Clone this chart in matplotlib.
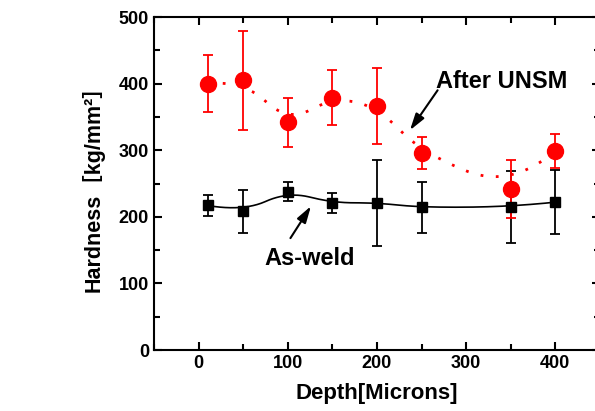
import numpy as np
import matplotlib
matplotlib.use("Agg")
import matplotlib.pyplot as plt
from matplotlib.ticker import MultipleLocator

plt.rcParams['font.family'] = ['Liberation Sans', 'Noto Sans CJK SC', 'DejaVu Sans']
plt.rcParams['font.weight'] = 'bold'

depth = [10, 50, 100, 150, 200, 250, 350, 400]
unsm = [400, 405, 342, 379, 366, 296, 242, 299]
unsm_err = [43, 74, 37, 41, 57, 24, 44, 26]
weld = [217, 208, 238, 221, 221, 214, 215, 222]
weld_err = [16, 32, 15, 15, 65, 38, 54, 48]


def bspline(xs, ys, k=2, n=300):
    # clamped B-spline using the data points as control points
    P = np.column_stack([xs, ys]).astype(float)
    m = len(P)
    knots = np.concatenate([np.zeros(k), np.linspace(0, 1, m - k + 1), np.ones(k)])
    t = np.linspace(0, 1 - 1e-9, n)
    out = []
    for u in t:
        i = np.searchsorted(knots, u, side='right') - 1
        i = min(max(i, k), m - 1)
        d = [P[j + i - k].copy() for j in range(k + 1)]
        for r in range(1, k + 1):
            for j in range(k, r - 1, -1):
                a = (u - knots[j + i - k]) / (knots[j + 1 + i - r] - knots[j + i - k])
                d[j] = (1 - a) * d[j - 1] + a * d[j]
        out.append(d[k])
    out.append(P[-1])
    out = np.array(out)
    return out[:, 0], out[:, 1]


fig = plt.figure(figsize=(5.95, 4.11), dpi=100)
ax = fig.add_axes([0.2588, 0.1484, 0.7495, 0.8102])

bx, by = bspline(depth, weld)
ax.plot(bx, by, color='black', lw=1.2, zorder=2)
ax.errorbar(depth, weld, yerr=weld_err, fmt='s', color='black', ms=7,
            capsize=3.5, elinewidth=1.3, capthick=1.3, zorder=3)

rx, ry = bspline(depth, unsm)
ax.plot(rx, ry, color='red', lw=2, ls=(0, (1, 4.5)), zorder=2)
ax.errorbar(depth, unsm, yerr=unsm_err, fmt='o', color='red', ms=11.5,
            capsize=3.5, elinewidth=1.3, capthick=1.3, zorder=3)

arrow = dict(arrowstyle='-|>,head_length=1.0,head_width=0.3',
             color='black', lw=1.5, shrinkA=0, shrinkB=0)
ax.text(266, 403, 'After UNSM', fontsize=17, fontweight='bold', ha='left', va='center')
ax.annotate('', xy=(237, 330), xytext=(268, 390), arrowprops=arrow)
ax.text(124, 138, 'As-weld', fontsize=17, fontweight='bold', ha='center', va='center')
ax.annotate('', xy=(126, 216), xytext=(103, 168), arrowprops=arrow)

ax.set_xlim(-50, 450)
ax.set_ylim(0, 500)
ax.xaxis.set_major_locator(MultipleLocator(100))
ax.xaxis.set_minor_locator(MultipleLocator(50))
ax.yaxis.set_major_locator(MultipleLocator(100))
ax.yaxis.set_minor_locator(MultipleLocator(50))
ax.tick_params(which='both', direction='in', top=True, right=True, width=1.5,
               labelsize=13)
ax.tick_params(which='major', length=6)
ax.tick_params(which='minor', length=4)
for lab in ax.get_xticklabels() + ax.get_yticklabels():
    lab.set_fontweight('bold')
for s in ax.spines.values():
    s.set_linewidth(1.5)

ax.set_xlabel('Depth[Microns]', fontsize=16, fontweight='bold', labelpad=8)
ax.set_ylabel('Hardness［kg/mm²］', fontsize=15.5, fontweight='bold', labelpad=10)

fig.savefig('out.png', dpi=100)
